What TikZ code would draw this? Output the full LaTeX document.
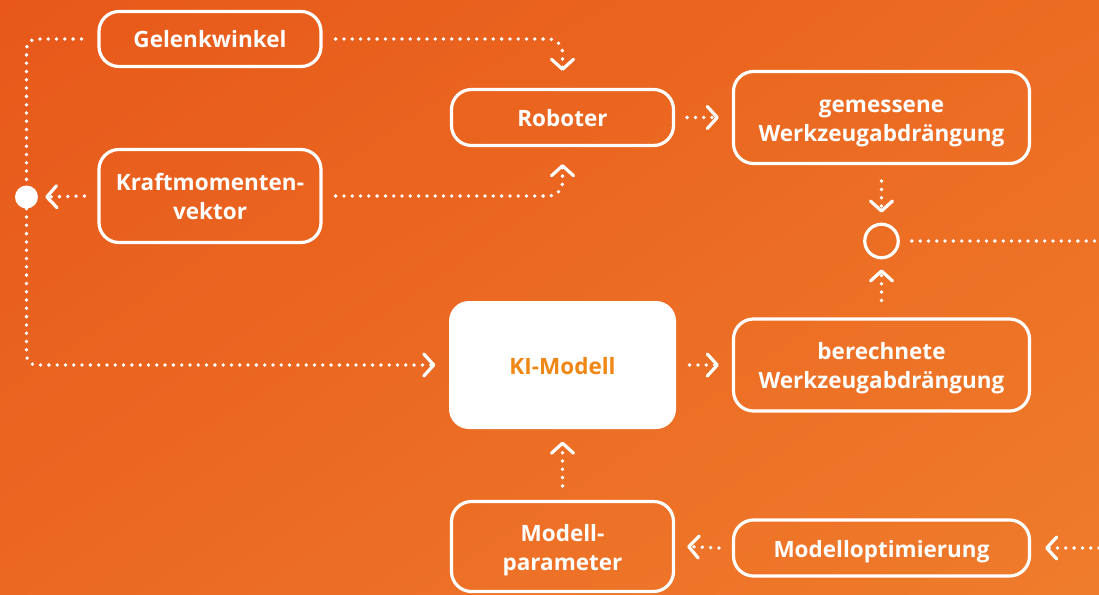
\documentclass[tikz,border=0pt]{standalone}
\usepackage{fontspec}
\setmainfont{Open Sans}
\usetikzlibrary{arrows.meta,shadings}

\definecolor{bgUL}{RGB}{231,88,26}
\definecolor{bgUR}{RGB}{236,108,34}
\definecolor{bgLL}{RGB}{235,104,34}
\definecolor{bgLR}{RGB}{239,124,44}
\definecolor{kiText}{RGB}{240,134,20}

\tikzset{
  box/.style={draw=white, line width=3.2pt, rounded corners=20pt, text=white,
    font=\bfseries\fontsize{22.5}{29}\selectfont, align=center, inner sep=0pt,
    text height=19pt, text depth=1pt},
  twoline/.style={text height=48pt},
  flow/.style={draw=white, line width=3.8pt, line cap=round,
    dash pattern=on 0pt off 8.3pt},
  arr/.style={-{Straight Barb[length=10pt,width=22pt,line width=3.2pt,round]}},
}

\begin{document}
\begin{tikzpicture}[x=1pt,y=-1pt]
  % background
  \shade[upper left=bgUL, upper right=bgUR, lower left=bgLL, lower right=bgLR]
    (0,0) rectangle (1099,594);
  \useasboundingbox (0,0) rectangle (1099,594);

  % blocks
  \node[box, minimum width=222pt, minimum height=55pt] (gel) at (210,39) {Gelenkwinkel};
  \node[box, twoline, minimum width=222pt, minimum height=93pt] (kraft) at (210,196) {Kraftmomenten-\\vektor};
  \node[box, minimum width=222pt, minimum height=56pt] (rob) at (562.5,117.5) {Roboter};
  \node[box, twoline, minimum width=296pt, minimum height=92pt] (gem) at (881.5,117.5) {gemessene\\Werkzeugabdrängung};
  \node[box, twoline, minimum width=296pt, minimum height=92pt] (ber) at (881.5,365) {berechnete\\Werkzeugabdrängung};
  \node[box, draw=none, fill=white, text=kiText, minimum width=227pt, minimum height=128pt] (ki) at (562.5,365) {KI-Modell};
  \node[box, twoline, minimum width=222pt, minimum height=90pt] (par) at (562.5,546.5) {Modell-\\parameter};
  \node[box, minimum width=296pt, minimum height=56pt] (opt) at (881.5,548) {Modelloptimierung};

  % junctions
  \node[circle, draw=white, line width=3.2pt, minimum size=33.5pt, inner sep=0pt] (cmp) at (881.5,241) {};
  \node[circle, fill=white, minimum size=23pt, inner sep=0pt] (dot) at (26.5,197) {};

  % free ends at the right edge
  \coordinate (outR) at (1099,241);
  \coordinate (inR) at (1099,548);

  % connectors
  \draw[flow, arr, rounded corners=14pt] ([xshift=13pt]gel.east) -| ([yshift=17pt]rob.north);
  \draw[flow, arr, rounded corners=14pt] ([xshift=13pt]kraft.east) -| ([yshift=-17pt]rob.south);
  \draw[flow, arr] ([xshift=-13pt]kraft.west) -- ([xshift=7pt]dot.east);
  \draw[flow, rounded corners=10pt] ([xshift=-16pt]gel.west) -| (dot.north);
  \draw[flow, arr, rounded corners=10pt] (dot.south) |- ([xshift=-12pt]ki.west);
  \draw[flow, arr] ([xshift=12pt]rob.east) -- ([xshift=-13pt]gem.west);
  \draw[flow, arr] ([yshift=-16pt]gem.south) -- ([yshift=10pt]cmp.north);
  \draw[flow, arr] ([yshift=17pt]ber.north) -- ([yshift=-10pt]cmp.south);
  \draw[flow] ([xshift=12pt]cmp.east) -- (outR);
  \draw[flow, arr] ([xshift=12pt]ki.east) -- ([xshift=-13pt]ber.west);
  \draw[flow, arr] ([yshift=14pt]par.north) -- ([yshift=-11pt]ki.south);
  \draw[flow, arr] ([xshift=-13pt]opt.west) -- ([xshift=12pt]par.east);
  \draw[flow, arr] (inR) -- ([xshift=14pt]opt.east);
\end{tikzpicture}
\end{document}
